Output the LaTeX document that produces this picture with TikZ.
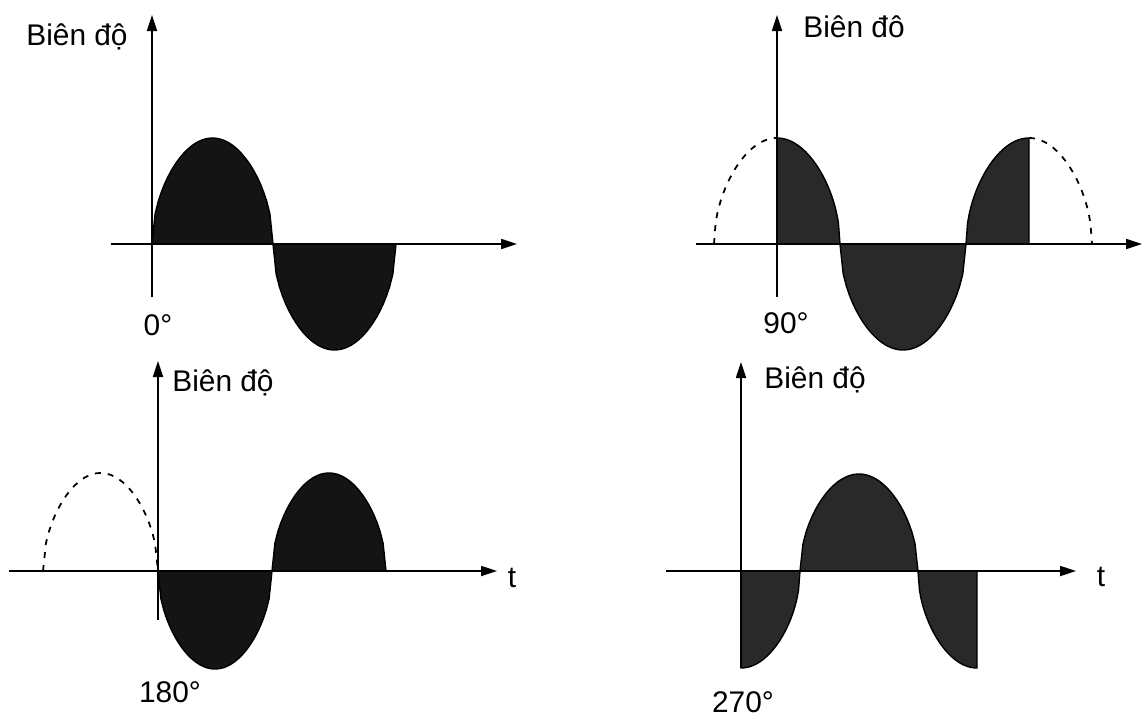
\documentclass[tikz,border=0pt]{standalone}
\usepackage{fontspec}
\setmainfont{Liberation Sans}
\usetikzlibrary{arrows.meta}

\begin{document}
\begin{tikzpicture}[
    x=0.02cm, y=0.02cm,
    declare function={wv(\t)=sqrt(abs(sin(\t)));},
    axis/.style={line width=1pt, -{Triangle[length=0.32cm, width=0.2cm]}},
    lobe/.style={draw=black, line width=0.8pt, fill=#1},
    lobe/.default=black!92,
    ghost/.style={line width=1pt, dash pattern=on 0.12cm off 0.14cm},
    lbl/.style={font=\fontsize{17}{20}\selectfont, inner sep=0pt},
    wave/.style={samples=40, variable=\t},
]
\useasboundingbox (0,0) rectangle (1144,-718);

% Panel 0 deg
\begin{scope}[shift={(152,-244)}]
\coordinate (xa1) at (-41,0);  \coordinate (xb1) at (365,0);
\coordinate (ya1) at (0,-53);  \coordinate (yb1) at (0,229);
\draw[lobe] (0,0) -- plot[wave, domain=0:180] ({\t/180*121}, {106*wv(\t)}) -- cycle;
\draw[lobe] (121,0) -- plot[wave, domain=0:180] ({121+\t/180*123}, {-106*wv(\t)}) -- cycle;
\draw[axis] (xa1) -- (xb1);
\draw[axis] (ya1) -- (yb1);
\node[lbl, anchor=east] (amp1) at (-24,207) {Biên độ};
\node[lbl] (deg1) at (6,-81) {0°};
\end{scope}

% Panel 90 deg
\begin{scope}[shift={(777,-244)}]
\coordinate (xa2) at (-81,0);  \coordinate (xb2) at (365,0);
\coordinate (ya2) at (0,-53);  \coordinate (yb2) at (0,229);
\draw[lobe=black!84] (0,0) -- plot[wave, domain=90:180] ({-63+\t/180*126}, {106*wv(\t)}) -- cycle;
\draw[lobe=black!84] (63,0) -- plot[wave, domain=0:180] ({63+\t/180*126}, {-106*wv(\t)}) -- cycle;
\draw[lobe=black!84] (189,0) -- plot[wave, domain=0:90] ({189+\t/180*126}, {106*wv(\t)}) -- (252,0) -- cycle;
\draw[ghost] plot[wave, domain=0:90] ({-63+\t/180*126}, {106*wv(\t)});
\draw[ghost] plot[wave, domain=90:180] ({189+\t/180*126}, {106*wv(\t)});
\draw[axis] (xa2) -- (xb2);
\draw[axis] (ya2) -- (yb2);
\node[lbl, anchor=west] (amp2) at (26,217) {Biên đô};
\node[lbl] (deg2) at (9,-79) {90°};
\end{scope}

% Panel 180 deg
\begin{scope}[shift={(158,-571)}]
\coordinate (xa3) at (-149,0);  \coordinate (xb3) at (339,0);
\coordinate (ya3) at (0,-49);   \coordinate (yb3) at (0,210);
\draw[lobe] (0,0) -- plot[wave, domain=0:180] ({\t/180*114}, {-98*wv(\t)}) -- cycle;
\draw[lobe] (114,0) -- plot[wave, domain=0:180] ({114+\t/180*114}, {98*wv(\t)}) -- cycle;
\draw[ghost] plot[wave, domain=0:180] ({-115+\t/180*115}, {98*wv(\t)});
\draw[axis] (xa3) -- (xb3);
\draw[axis] (ya3) -- (yb3);
\node[lbl, anchor=west] (amp3) at (14,188) {Biên độ};
\node[lbl] (t3) at (354,-7) {t};
\node[lbl] (deg3) at (12,-121) {180°};
\end{scope}

% Panel 270 deg
\begin{scope}[shift={(741,-571)}]
\coordinate (xa4) at (-75,0);  \coordinate (xb4) at (335,0);
\coordinate (ya4) at (0,-97);  \coordinate (yb4) at (0,209);
\draw[lobe=black!84] (0,0) -- plot[wave, domain=90:180] ({-59+\t/180*118}, {-97*wv(\t)}) -- cycle;
\draw[lobe=black!84] (59,0) -- plot[wave, domain=0:180] ({59+\t/180*118}, {97*wv(\t)}) -- cycle;
\draw[lobe=black!84] (177,0) -- plot[wave, domain=0:90] ({177+\t/180*118}, {-97*wv(\t)}) -- (236,0) -- cycle;
\draw[axis] (xa4) -- (xb4);
\draw[axis] (ya4) -- (yb4);
\node[lbl, anchor=west] (amp4) at (23,191) {Biên độ};
\node[lbl] (t4) at (360,-6) {t};
\node[lbl] (deg4) at (2,-131) {270°};
\end{scope}
\end{tikzpicture}
\end{document}
